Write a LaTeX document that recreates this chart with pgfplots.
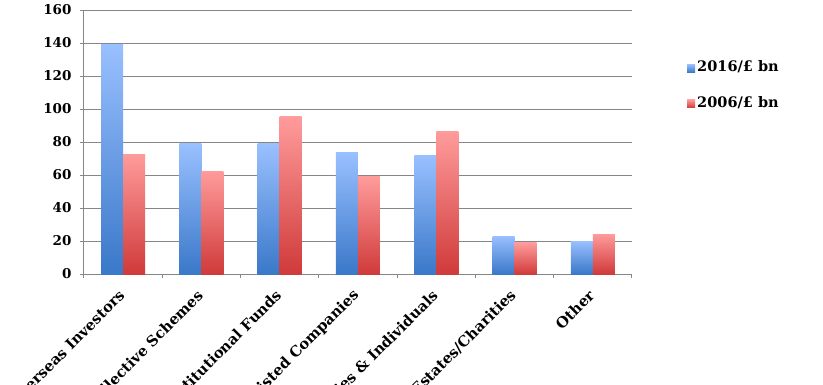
\documentclass[border=0pt]{standalone}
\usepackage{fontspec}
\setmainfont{DejaVu Serif}
\usepackage{pgfplots}
\pgfplotsset{compat=1.18}
\definecolor{gridgray}{HTML}{868686}
\definecolor{bluetop}{HTML}{99C0FF}
\definecolor{bluebot}{HTML}{3A78C9}
\definecolor{redtop}{HTML}{FF9B9B}
\definecolor{redbot}{HTML}{D03A3A}
\pgfplotsset{
  bluebar/.style={ybar, bar width=22bp, bar shift=-11bp, draw=none, top color=bluetop, bottom color=bluebot},
  redbar/.style={ybar, bar width=22bp, bar shift=11bp, draw=none, top color=redtop, bottom color=redbot},
}
\begin{document}
\begin{tikzpicture}
\begin{axis}[
  scale only axis,
  width=548bp, height=264bp,
  xmin=-0.5, xmax=6.5,
  ymin=0, ymax=160,
  ytick={0,20,...,160},
  ymajorgrids,
  grid style={gridgray, line width=1bp},
  axis x line*=bottom,
  axis y line*=left,
  axis line style={gridgray, line width=1bp},
  tick style={gridgray, line width=1bp},
  tick align=outside,
  major tick length=4bp,
  xtick={-0.5,0.5,...,6.5},
  xticklabels={},
  extra x ticks={0,1,2,3,4,5,6},
  extra x tick labels={Overseas Investors,Collective Schemes,Institutional Funds,Listed Companies,Families \& Individuals,Estates/Charities,Other},
  extra x tick style={tick style={draw=none}, grid=none,
    xticklabel style={xshift=-0.5bp, yshift=-14bp, rotate=45, anchor=east, inner sep=1bp, font=\fontsize{14.7bp}{16bp}\selectfont\bfseries}},
  ticklabel style={font=\fontsize{13.5bp}{15bp}\selectfont\bfseries, text=black},
  /pgf/number format/assume math mode=true,
  yticklabel style={xshift=-5bp},
  legend style={draw=none, fill=none, at={(1.095,0.716)}, anchor=west,
    font=\fontsize{14.5bp}{16bp}\selectfont\bfseries, row sep=19bp,
    legend cell align=left},
  legend image code/.code={\path[#1] (0bp,-5bp) rectangle (8bp,3bp);},
]
\addplot[bluebar] coordinates {(0,139.2)};
\addplot[redbar] coordinates {(0,72.7)};
\addplot[bluebar, forget plot] coordinates {(1,78.8)};
\addplot[redbar, forget plot] coordinates {(1,62.4)};
\addplot[bluebar, forget plot] coordinates {(2,78.8)};
\addplot[redbar, forget plot] coordinates {(2,95.2)};
\addplot[bluebar, forget plot] coordinates {(3,73.7)};
\addplot[redbar, forget plot] coordinates {(3,58.8)};
\addplot[bluebar, forget plot] coordinates {(4,72)};
\addplot[redbar, forget plot] coordinates {(4,86.2)};
\addplot[bluebar, forget plot] coordinates {(5,23)};
\addplot[redbar, forget plot] coordinates {(5,18.8)};
\addplot[bluebar, forget plot] coordinates {(6,20)};
\addplot[redbar, forget plot] coordinates {(6,24.2)};
\legend{2016/£ bn,2006/£ bn}
\end{axis}
\pgfresetboundingbox
\path[use as bounding box] (-84bp,-111bp) rectangle (739bp,274bp);
\end{tikzpicture}
\end{document}
